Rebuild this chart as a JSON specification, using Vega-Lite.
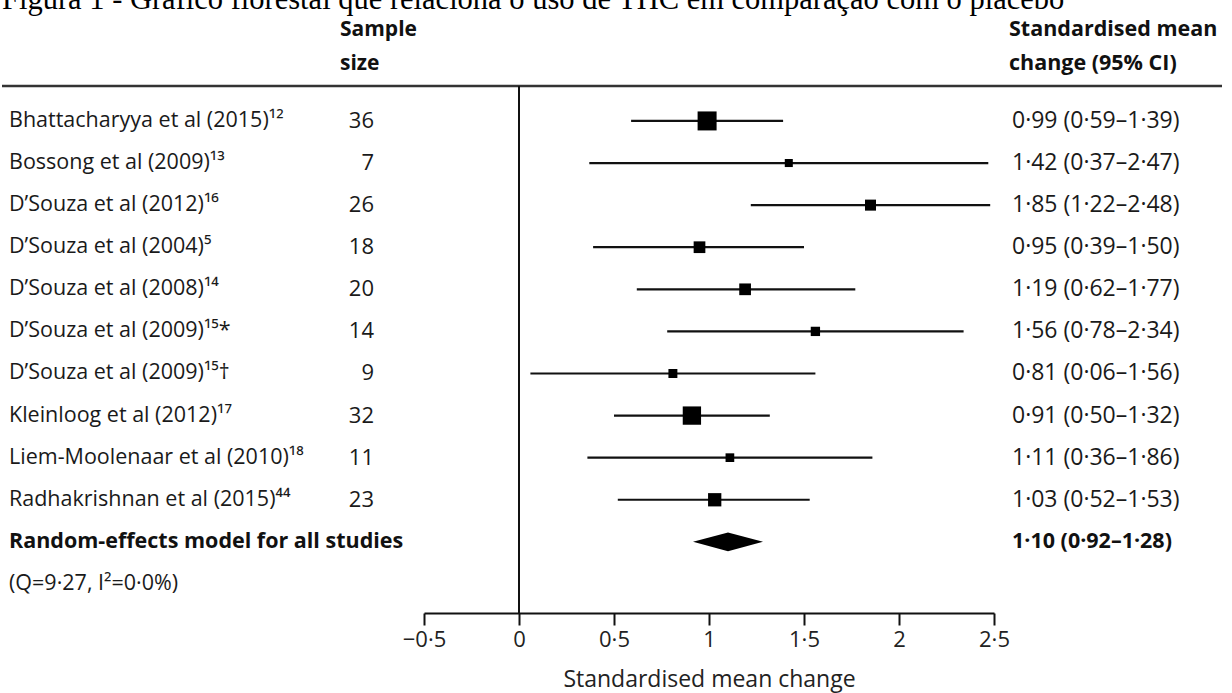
{
  "$schema": "https://vega.github.io/schema/vega-lite/v6.json",
  "background": "white",
  "padding": {"left": 0, "top": -16, "right": 0, "bottom": 2},
  "bounds": "flush",
  "title": {
    "text": "Figura 1 - Gráfico florestal que relaciona o uso de THC em comparação com o placebo",
    "font": "Liberation Serif", "fontSize": 30.5, "fontWeight": "normal",
    "anchor": "start", "frame": "group", "offset": 3.5, "color": "#000"
  },
  "datasets": {
    "rows": [
      {"row": 0, "type": "study", "label": "Bhattacharyya et al (2015)¹²", "n": 36, "est": 0.99, "lo": 0.59, "hi": 1.39, "w": 22.9, "ci": "0·99 (0·59–1·39)"},
      {"row": 1, "type": "study", "label": "Bossong et al (2009)¹³", "n": 7, "est": 1.42, "lo": 0.37, "hi": 2.47, "w": 4.1, "ci": "1·42 (0·37–2·47)"},
      {"row": 2, "type": "study", "label": "D’Souza et al (2012)¹⁶", "n": 26, "est": 1.85, "lo": 1.22, "hi": 2.48, "w": 7.7, "ci": "1·85 (1·22–2·48)"},
      {"row": 3, "type": "study", "label": "D’Souza et al (2004)⁵", "n": 18, "est": 0.95, "lo": 0.39, "hi": 1.50, "w": 8.7, "ci": "0·95 (0·39–1·50)"},
      {"row": 4, "type": "study", "label": "D’Souza et al (2008)¹⁴", "n": 20, "est": 1.19, "lo": 0.62, "hi": 1.77, "w": 8.7, "ci": "1·19 (0·62–1·77)"},
      {"row": 5, "type": "study", "label": "D’Souza et al (2009)¹⁵*", "n": 14, "est": 1.56, "lo": 0.78, "hi": 2.34, "w": 5.5, "ci": "1·56 (0·78–2·34)"},
      {"row": 6, "type": "study", "label": "D’Souza et al (2009)¹⁵†", "n": 9, "est": 0.81, "lo": 0.06, "hi": 1.56, "w": 5.1, "ci": "0·81 (0·06–1·56)"},
      {"row": 7, "type": "study", "label": "Kleinloog et al (2012)¹⁷", "n": 32, "est": 0.91, "lo": 0.50, "hi": 1.32, "w": 21.3, "ci": "0·91 (0·50–1·32)"},
      {"row": 8, "type": "study", "label": "Liem-Moolenaar et al (2010)¹⁸", "n": 11, "est": 1.11, "lo": 0.36, "hi": 1.86, "w": 4.8, "ci": "1·11 (0·36–1·86)"},
      {"row": 9, "type": "study", "label": "Radhakrishnan et al (2015)⁴⁴", "n": 23, "est": 1.03, "lo": 0.52, "hi": 1.53, "w": 11.2, "ci": "1·03 (0·52–1·53)"},
      {"row": 10, "type": "pooled", "label": "Random-effects model for all studies", "est": 1.10, "lo": 0.92, "hi": 1.28, "ci": "1·10 (0·92–1·28)"},
      {"row": 11, "type": "note", "label": "(Q=9·27, I²=0·0%)"}
    ]
  },
  "data": {"name": "rows"},
  "spacing": 0,
  "hconcat": [
    {
      "width": 422, "height": 527,
      "title": {"text": ["Sample", "size"], "anchor": "start", "frame": "group", "dx": 338, "fontSize": 21, "fontWeight": "bold", "lineHeight": 34, "offset": 10.5, "font": "Open Sans", "color": "#111"},
      "layer": [
        {
          "data": {"values": [{}]},
          "mark": {"type": "rule", "strokeWidth": 2.5, "color": "#333"},
          "encoding": {"y": {"datum": -0.83, "type": "quantitative", "scale": {"domain": [-0.83, 11.69], "reverse": true, "nice": false, "zero": false}, "axis": null}}
        },
        {
          "transform": [{"filter": "datum.type !== 'pooled'"}],
          "mark": {"type": "text", "align": "left", "baseline": "middle", "fontSize": 21.5, "font": "Open Sans", "color": "#1a1a1a"},
          "encoding": {
            "x": {"value": 7},
            "y": {"field": "row", "type": "quantitative", "scale": {"domain": [-0.83, 11.69], "reverse": true, "nice": false, "zero": false}, "axis": null},
            "text": {"field": "label"}
          }
        },
        {
          "transform": [{"filter": "datum.type === 'pooled'"}],
          "mark": {"type": "text", "align": "left", "baseline": "middle", "fontSize": 21.5, "font": "Open Sans", "fontWeight": "bold", "color": "#111"},
          "encoding": {
            "x": {"value": 7},
            "y": {"field": "row", "type": "quantitative", "scale": {"domain": [-0.83, 11.69], "reverse": true, "nice": false, "zero": false}, "axis": null},
            "text": {"field": "label"}
          }
        },
        {
          "transform": [{"filter": "datum.type === 'study'"}],
          "mark": {"type": "text", "align": "right", "baseline": "middle", "fontSize": 22, "font": "Open Sans", "color": "#1a1a1a"},
          "encoding": {
            "x": {"value": 372},
            "y": {"field": "row", "type": "quantitative", "scale": {"domain": [-0.83, 11.69], "reverse": true, "nice": false, "zero": false}, "axis": null},
            "text": {"field": "n", "type": "quantitative"}
          }
        }
      ]
    },
    {
      "width": 570, "height": 527,
      "layer": [
        {
          "data": {"values": [{}]},
          "mark": {"type": "rule", "strokeWidth": 2.5, "color": "#333"},
          "encoding": {"y": {"datum": -0.83, "type": "quantitative", "scale": {"domain": [-0.83, 11.69], "reverse": true, "nice": false, "zero": false}, "axis": null}}
        },
        {
          "transform": [{"filter": "datum.type === 'study'"}],
          "mark": {"type": "rule", "strokeWidth": 2.2, "color": "#111"},
          "encoding": {
            "x": {
              "field": "lo", "type": "quantitative",
              "scale": {"domain": [-0.5, 2.5], "nice": false, "zero": false},
              "axis": {
                "values": [-0.5, 0, 0.5, 1, 1.5, 2, 2.5], "format": "~g",
                "labelExpr": "replace(datum.label, '.', '·')",
                "title": "Standardised mean change",
                "grid": false, "domainColor": "#111", "domainWidth": 2,
                "tickColor": "#111", "tickWidth": 2, "tickSize": 12,
                "labelFont": "Open Sans", "labelFontSize": 22, "labelColor": "#222", "labelPadding": 4, "labelFlush": false,
                "titleFont": "Open Sans", "titleFontSize": 23, "titleFontWeight": "normal", "titleColor": "#222", "titlePadding": 18
              }
            },
            "x2": {"field": "hi"},
            "y": {"field": "row", "type": "quantitative", "scale": {"domain": [-0.83, 11.69], "reverse": true, "nice": false, "zero": false}, "axis": null}
          }
        },
        {
          "data": {"values": [{}]},
          "mark": {"type": "rule", "strokeWidth": 2, "color": "#111"},
          "encoding": {"x": {"datum": 0, "type": "quantitative"}}
        },
        {
          "transform": [{"filter": "datum.type === 'study'"}],
          "mark": {"type": "point", "shape": "square", "filled": true, "color": "#000", "opacity": 1},
          "encoding": {
            "x": {"field": "est", "type": "quantitative"},
            "y": {"field": "row", "type": "quantitative", "scale": {"domain": [-0.83, 11.69], "reverse": true, "nice": false, "zero": false}, "axis": null},
            "size": {"field": "w", "type": "quantitative", "scale": {"domain": [0, 22.9], "range": [0, 361], "zero": true}, "legend": null}
          }
        },
        {
          "transform": [{"filter": "datum.type === 'pooled'"}],
          "mark": {"type": "point", "shape": "M-1,0L0,-0.27L1,0L0,0.27Z", "filled": true, "color": "#000", "opacity": 1, "size": 4900},
          "encoding": {
            "x": {"field": "est", "type": "quantitative"},
            "y": {"field": "row", "type": "quantitative", "scale": {"domain": [-0.83, 11.69], "reverse": true, "nice": false, "zero": false}, "axis": null}
          }
        }
      ]
    },
    {
      "width": 228, "height": 527,
      "title": {"text": ["Standardised mean", "change (95% CI)"], "anchor": "start", "frame": "group", "dx": 15, "fontSize": 21.5, "fontWeight": "bold", "lineHeight": 34, "offset": 10.5, "font": "Open Sans", "color": "#111"},
      "layer": [
        {
          "data": {"values": [{}]},
          "mark": {"type": "rule", "strokeWidth": 2.5, "color": "#333"},
          "encoding": {"y": {"datum": -0.83, "type": "quantitative", "scale": {"domain": [-0.83, 11.69], "reverse": true, "nice": false, "zero": false}, "axis": null}}
        },
        {
          "transform": [{"filter": "datum.type === 'study'"}],
          "mark": {"type": "text", "align": "left", "baseline": "middle", "fontSize": 23, "font": "Open Sans", "color": "#1a1a1a"},
          "encoding": {
            "x": {"value": 18},
            "y": {"field": "row", "type": "quantitative", "scale": {"domain": [-0.83, 11.69], "reverse": true, "nice": false, "zero": false}, "axis": null},
            "text": {"field": "ci"}
          }
        },
        {
          "transform": [{"filter": "datum.type === 'pooled'"}],
          "mark": {"type": "text", "align": "left", "baseline": "middle", "fontSize": 21.5, "font": "Open Sans", "fontWeight": "bold", "color": "#111"},
          "encoding": {
            "x": {"value": 18},
            "y": {"field": "row", "type": "quantitative", "scale": {"domain": [-0.83, 11.69], "reverse": true, "nice": false, "zero": false}, "axis": null},
            "text": {"field": "ci"}
          }
        }
      ]
    }
  ],
  "config": {"view": {"stroke": null}, "font": "Open Sans"}
}
